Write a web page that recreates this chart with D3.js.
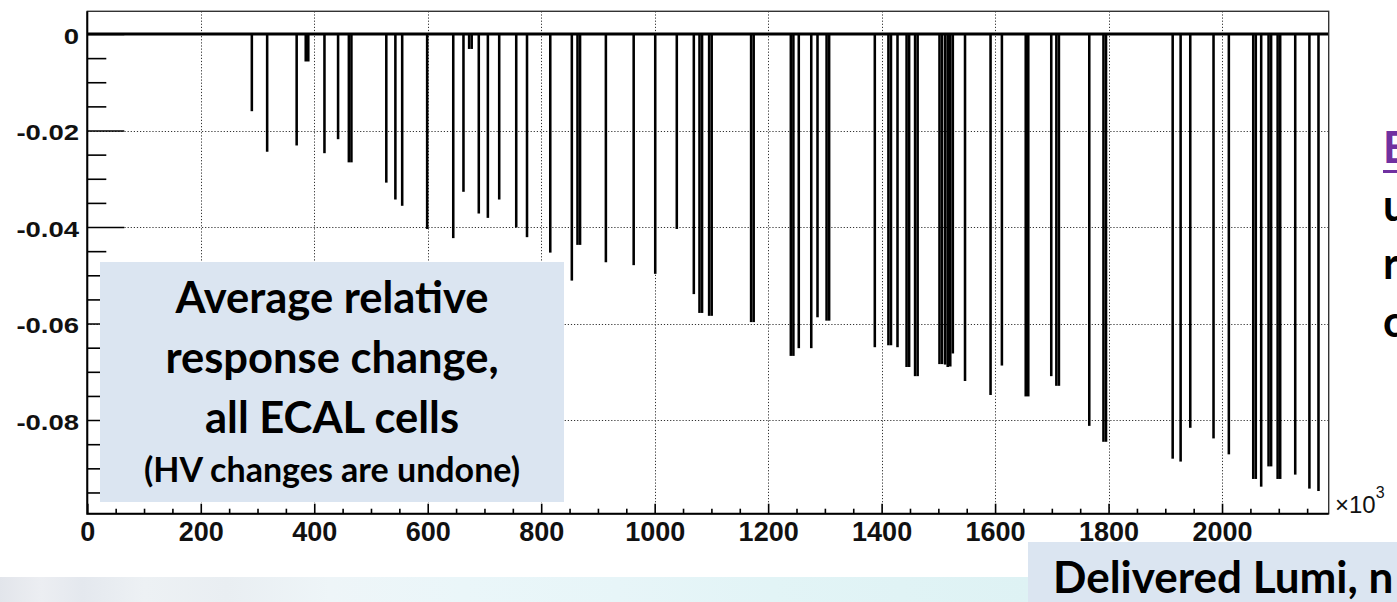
<!DOCTYPE html>
<html>
<head>
<meta charset="utf-8">
<script src="https://cdn.jsdelivr.net/npm/d3@7"></script>
<style>
  html, body { margin: 0; padding: 0; background: #ffffff; overflow: hidden; }
  svg { display: block; }
</style>
</head>
<body>
<svg id="chart" width="1397" height="602"></svg>
<script>
// Histogram bins: delivered luminosity (x10^3) at the bin centre and the
// average relative response change of all ECAL cells in that bin.
const binWidth = 4.5;
const binLumi = [
  290, 317, 369, 385, 389.5, 418, 442, 461, 465.5,
  527, 543, 555, 599, 645, 663, 673, 677.5, 690, 706, 726,
  756, 775, 816, 854, 864, 868.5, 914, 963, 1001, 1039, 1069,
  1079, 1083.5, 1096, 1100.5, 1170, 1174.5, 1240, 1244.5, 1254, 1276, 1287,
  1303, 1307.5, 1388, 1412, 1416.5, 1428, 1444, 1448.5, 1459, 1463.5,
  1502, 1506.5, 1512, 1516.5, 1521, 1525.5, 1547, 1592, 1612,
  1654, 1658.5, 1699, 1708, 1712.5, 1766, 1791, 1795.5,
  1913, 1927, 1944, 1985, 2012, 2055, 2059.5, 2069, 2082, 2086.5,
  2098, 2102.5, 2129, 2154, 2170
];
const binResponse = [
  -0.0160, -0.0244, -0.0231, -0.0057, -0.0057, -0.0247, -0.0218, -0.0266, -0.0266,
  -0.0308, -0.0343, -0.0356, -0.0404, -0.0423, -0.0327, -0.0031, -0.0031, -0.0372, -0.0381, -0.0343,
  -0.0401, -0.0421, -0.0453, -0.0511, -0.0437, -0.0437, -0.0473, -0.0479, -0.0497, -0.0404, -0.0539,
  -0.0578, -0.0578, -0.0584, -0.0584, -0.0597, -0.0597, -0.0667, -0.0667, -0.0651, -0.0651, -0.0587,
  -0.0594, -0.0594, -0.0649, -0.0645, -0.0645, -0.0649, -0.0690, -0.0690, -0.0709, -0.0709,
  -0.0684, -0.0684, -0.0685, -0.0690, -0.0689, -0.0662, -0.0719, -0.0748, -0.0687,
  -0.0751, -0.0751, -0.0709, -0.0729, -0.0729, -0.0812, -0.0845, -0.0845,
  -0.0880, -0.0886, -0.0816, -0.0838, -0.0871, -0.0922, -0.0922, -0.0938, -0.0896, -0.0896,
  -0.0922, -0.0922, -0.0913, -0.0942, -0.0947
];

// Axis ranges and tick values
const lumiRange = [0, 2188];
const responseRange = [0.0047, -0.0994];
const xMajorTicks = [0, 200, 400, 600, 800, 1000, 1200, 1400, 1600, 1800, 2000];
const xMinorStep = 50;
const yMajorTicks = [0, -0.02, -0.04, -0.06, -0.08];
const yMinorStep = 0.005;

// Text blocks around the plot
const boxLines = ["Average relative", "response change,", "all ECAL cells"];
const boxNote = "(HV changes are undone)";
const xTitle = "Delivered Lumi, n";
const sideLetters = ["E", "u", "r", "c"];

const svg = d3.select("#chart");
const frame = { left: 87.3, right: 1328.7, top: 11.3, bottom: 513.7 };

const x = d3.scaleLinear().domain(lumiRange).range([frame.left, frame.right]);
const y = d3.scaleLinear().domain(responseRange).range([frame.top, frame.bottom]);

const bins = binLumi.map((l, i) => ({ lumi: l, value: binResponse[i] }));

// ---- slide background strip and title box at the bottom ----
const defs = svg.append("defs");
const grad = defs.append("linearGradient").attr("id", "strip")
  .attr("x1", "0%").attr("x2", "100%").attr("y1", "0%").attr("y2", "0%");
[[0, "#e2e5eb"], [0.04, "#eceef2"], [0.08, "#e4e8ee"], [0.14, "#edf1f4"],
 [0.22, "#e9eef2"], [0.32, "#eef5f8"], [0.45, "#eaf6f9"], [0.6, "#e7f5f8"],
 [0.75, "#e2f4f6"], [1, "#def2f4"]].forEach(([o, c]) =>
  grad.append("stop").attr("offset", o).attr("stop-color", c));

svg.append("rect").attr("x", 0).attr("y", 577).attr("width", 1030).attr("height", 25)
  .attr("fill", "url(#strip)");

// ---- grid ----
const grid = svg.append("g").attr("stroke", "#333").attr("stroke-width", 1)
  .attr("stroke-dasharray", "1.2,1.9");
grid.selectAll("line.v").data(xMajorTicks.filter(d => d > 0)).join("line")
  .attr("class", "v")
  .attr("x1", d => Math.round(x(d)) + 0.5).attr("x2", d => Math.round(x(d)) + 0.5)
  .attr("y1", frame.top).attr("y2", frame.bottom);
grid.selectAll("line.h").data(yMajorTicks.filter(d => d < 0)).join("line")
  .attr("class", "h")
  .attr("x1", frame.left).attr("x2", frame.right)
  .attr("y1", d => Math.round(y(d)) + 0.5).attr("y2", d => Math.round(y(d)) + 0.5);

// ---- histogram bars ----
svg.append("g").selectAll("rect").data(bins).join("rect")
  .attr("x", d => x(d.lumi - binWidth / 2))
  .attr("width", d => x(d.lumi + binWidth / 2) - x(d.lumi - binWidth / 2))
  .attr("y", y(0))
  .attr("height", d => y(d.value) - y(0))
  .attr("fill", "#000");

// zero level line
svg.append("line")
  .attr("x1", frame.left).attr("x2", frame.right)
  .attr("y1", y(0)).attr("y2", y(0))
  .attr("stroke", "#000").attr("stroke-width", 3);

// ---- axes ----
const xMinor = d3.range(0, lumiRange[1], xMinorStep).filter(v => v % 200 !== 0);
const yMinor = d3.range(0, -0.0994, -yMinorStep).map(v => +v.toFixed(3))
  .filter(v => Math.abs(Math.round(v / 0.02) * 0.02 - v) > 1e-6);

const gx = svg.append("g").attr("transform", `translate(0,${frame.bottom})`)
  .call(d3.axisBottom(x).tickValues(xMajorTicks).tickSize(-10).tickPadding(8)
    .tickFormat(d3.format("d")));
gx.select(".domain").remove();
gx.selectAll(".tick line").attr("stroke", "#000").attr("stroke-width", 1.6);
gx.selectAll(".tick text")
  .attr("font-family", "'Liberation Sans', Arial, sans-serif")
  .attr("font-weight", "bold").attr("font-size", 27).attr("fill", "#111");

const gxm = svg.append("g").attr("transform", `translate(0,${frame.bottom})`)
  .call(d3.axisBottom(x).tickValues(xMinor).tickSize(-5).tickFormat(""));
gxm.select(".domain").remove();
gxm.selectAll(".tick line").attr("stroke", "#000").attr("stroke-width", 1.6);

const labelScale = 1.25;
const gy = svg.append("g").attr("transform", `translate(${frame.left},0)`)
  .call(d3.axisLeft(y).tickValues(yMajorTicks).tickSize(-37).tickPadding(6.6)
    .tickFormat(d => d === 0 ? "0" : d.toFixed(2)));
gy.select(".domain").remove();
gy.selectAll(".tick line").attr("stroke", "#000").attr("stroke-width", 1.6);
gy.selectAll(".tick text")
  .attr("font-family", "'Liberation Sans', Arial, sans-serif")
  .attr("font-weight", "bold").attr("font-size", 22).attr("fill", "#111")
  .attr("dy", "0.42em")
  .attr("transform", `scale(${labelScale},1)`);

const gym = svg.append("g").attr("transform", `translate(${frame.left},0)`)
  .call(d3.axisLeft(y).tickValues(yMinor).tickSize(-19).tickFormat(""));
gym.select(".domain").remove();
gym.selectAll(".tick line").attr("stroke", "#000").attr("stroke-width", 1.6);

// frame
svg.append("rect")
  .attr("x", frame.left).attr("y", frame.top)
  .attr("width", frame.right - frame.left).attr("height", frame.bottom - frame.top)
  .attr("fill", "none").attr("stroke", "#333").attr("stroke-width", 1.4);
svg.append("path")
  .attr("d", `M${frame.left},${frame.top}V${frame.bottom}H${frame.right}`)
  .attr("fill", "none").attr("stroke", "#000").attr("stroke-width", 2);

// axis exponent
const expo = svg.append("text")
  .attr("x", 1335).attr("y", 513)
  .attr("font-family", "'Liberation Sans', Arial, sans-serif")
  .attr("font-size", 24).attr("fill", "#111");
expo.append("tspan").text("\u00d710");
expo.append("tspan").attr("font-size", 16).attr("dy", -15).text("3");

// ---- annotation box inside the plot ----
const font = "Lato, 'Open Sans', sans-serif";
svg.append("rect").attr("x", 100).attr("y", 262).attr("width", 464).attr("height", 240)
  .attr("fill", "#dbe5f1");
svg.selectAll("text.box").data(boxLines).join("text")
  .attr("class", "box")
  .attr("x", 332).attr("y", (d, i) => 313 + i * 60)
  .attr("text-anchor", "middle")
  .attr("font-family", font).attr("font-weight", "bold").attr("font-size", 43.5)
  .attr("fill", "#000").text(d => d);
svg.append("text")
  .attr("x", 332).attr("y", 482).attr("text-anchor", "middle")
  .attr("font-family", font).attr("font-weight", "bold").attr("font-size", 34)
  .attr("fill", "#000").text(boxNote);

// ---- x title box ----
svg.append("rect").attr("x", 1028).attr("y", 542).attr("width", 369).attr("height", 60)
  .attr("fill", "#dbe5f1");
svg.append("text").attr("x", 1053).attr("y", 593)
  .attr("font-family", font).attr("font-weight", "bold").attr("font-size", 44)
  .attr("fill", "#000").text(xTitle);

// ---- side text on the right ----
const sideY = [163, 221, 279, 337];
svg.selectAll("text.side").data(sideLetters).join("text")
  .attr("class", "side")
  .attr("x", 1383).attr("y", (d, i) => sideY[i])
  .attr("font-family", font).attr("font-weight", "bold").attr("font-size", 43)
  .attr("fill", (d, i) => i === 0 ? "#7030a0" : "#000").text(d => d);
svg.append("rect").attr("x", 1383).attr("y", 170).attr("width", 14).attr("height", 3)
  .attr("fill", "#7030a0");
</script>
</body>
</html>
